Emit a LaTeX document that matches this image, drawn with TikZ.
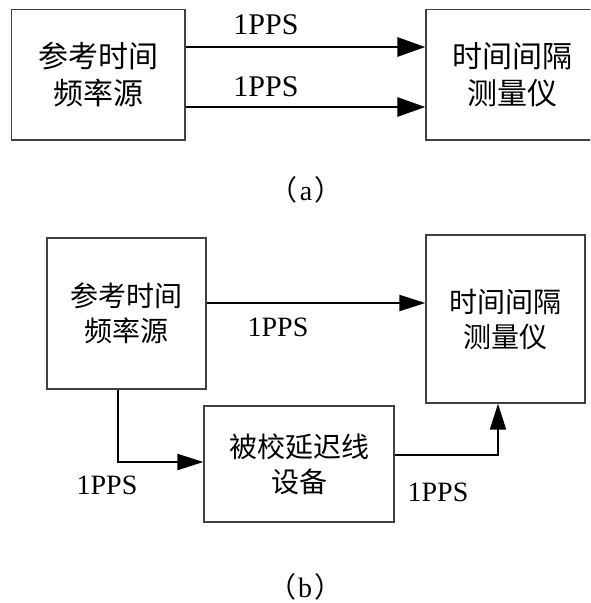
\documentclass[tikz,border=0pt]{standalone}
\usepackage{fontspec}
\setmainfont{Liberation Serif}
\newfontfamily\cjk{Noto Sans CJK SC}
\usetikzlibrary{arrows.meta}
\tikzset{
  box/.style={draw=black!75, line width=1.3pt, inner sep=0pt, align=center, font=\cjk\fontsize{30}{37}\selectfont},
  boxb/.style={box, font=\cjk\fontsize{28}{35}\selectfont},
  arrA/.style={line width=2.9pt, -{Triangle[length=28pt,width=19pt]}},
  arrB/.style={line width=2pt, -{Triangle[length=26pt,width=16pt]}},
  lblA/.style={inner sep=0pt, font=\fontsize{30}{30}\selectfont},
  lblB/.style={inner sep=0pt, font=\fontsize{28}{28}\selectfont},
  captext/.style={inner sep=0pt, font=\fontsize{28}{28}\selectfont}
}
\begin{document}
\begin{tikzpicture}[x=1pt,y=-1pt]
\clip (0,0) rectangle (590,603);
% (a)
\node[box, minimum width=173.3pt, minimum height=130.7pt] (la) at (98.3,74.7) {参考时间\\频率源};
\node[box, minimum width=172pt, minimum height=130.7pt] (ra) at (512,74.7) {时间间隔\\测量仪};
\draw[arrA] ([yshift=27.7pt]la.east) -- ([yshift=27.7pt]ra.west);
\draw[arrA] ([yshift=-32.3pt]la.east) -- ([yshift=-32.3pt]ra.west);
\node[lblA] (p1) at (266,25) {1PPS};
\node[lblA] (p2) at (266,87) {1PPS};
\node[captext] (ca) at (306,190) {{\cjk （}\hspace{2pt}a\hspace{2pt}{\cjk ）}};
% (b)
\node[boxb, minimum width=159pt, minimum height=151pt] (s) at (126.5,313.5) {参考时间\\频率源};
\node[boxb, minimum width=159pt, minimum height=168pt] (m) at (505.5,319) {时间间隔\\测量仪};
\node[boxb, minimum width=190pt, minimum height=116pt] (d) at (299,464) {被校延迟线\\设备};
\draw[arrB] ([yshift=10.5pt]s.east) -- ([yshift=10.5pt]s.east -| m.west);
\draw[arrB] ([xshift=-8.5pt]s.south) |- ([yshift=2pt]d.west);
\draw[arrB] ([yshift=9pt]d.east) -| ([xshift=-7.5pt]m.south);
\node[lblB] (p3) at (278,327) {1PPS};
\node[lblB] (p4) at (107,485) {1PPS};
\node[lblB] (p5) at (438,492) {1PPS};
\node[captext] (cb) at (305,587) {{\cjk （}\hspace{2pt}b\hspace{2pt}{\cjk ）}};
\end{tikzpicture}
\end{document}
